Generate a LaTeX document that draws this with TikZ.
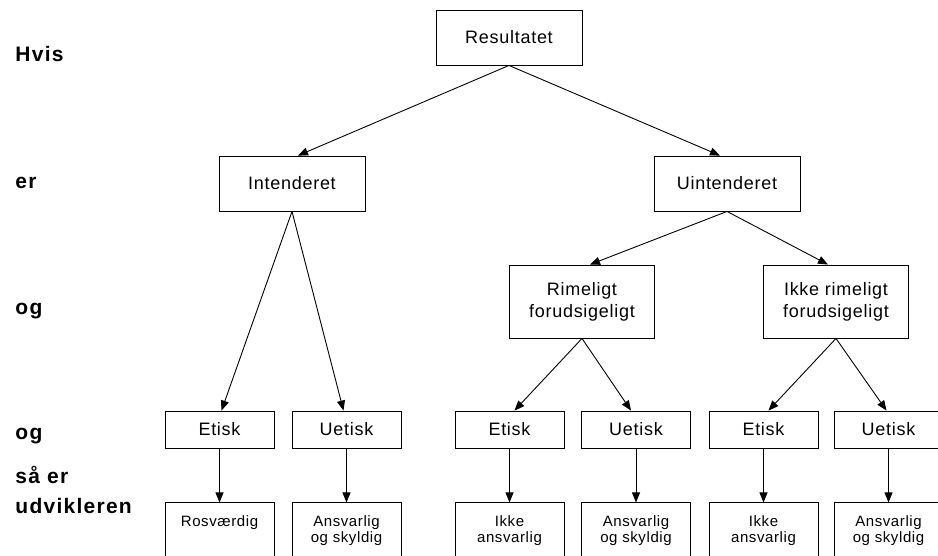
\documentclass[tikz,border=0pt]{standalone}
\usepackage{fontspec}
\setmainfont[LetterSpace=4]{Liberation Sans}
\newfontfamily\rowfont[LetterSpace=6]{Liberation Sans}
\usetikzlibrary{positioning,arrows.meta}

\begin{document}
\begin{tikzpicture}[
        x=1pt, y=-1pt,
        box/.style={
                rectangle,
                draw=black,
                fill=white,
                line width=0.9pt,
                minimum width=146pt,
                minimum height=55pt,
                align=center,
                font=\fontsize{18}{22}\selectfont
            },
        tallbox/.style={
                box,
                minimum width=145pt,
                minimum height=73pt
            },
        choice/.style={
                box,
                minimum width=109pt,
                minimum height=37pt
            },
        verdict/.style={
                rectangle,
                draw=black,
                line width=0.9pt,
                minimum width=109pt,
                align=center,
                inner ysep=4pt,
                text height=20pt,
                text depth=40pt,
                font=\fontsize{15}{16}\selectfont
            },
        twolines/.style={text height=36pt, text depth=24pt},
        rowtext/.style = {anchor=base west, align=left, inner sep=0pt,
                font=\rowfont\fontsize{21}{30}\selectfont\bfseries},
        >={Triangle[length=10pt,width=8pt]},
        line width=0.9pt
    ]
    \useasboundingbox (0,0) rectangle (938,555);

    % row captions
    \node[rowtext] (hvis) at (15,61)  {Hvis};
    \node[rowtext] (er)   at (15,188) {er};
    \node[rowtext] (og1)  at (15,314) {og};
    \node[rowtext] (og2)  at (15,439) {og};
    \node[rowtext] (saa)  at (15,513) {så er\\udvikleren};

    \node[box] (result)     at (509,37.5)  {Resultatet};
    \node[box] (intended)   at (292,183.5) {Intenderet};
    \node[box] (unintended) at (727,183.5) {Uintenderet};
    \node[tallbox] (foreseen)   at (582,301.5) {Rimeligt\\forudsigeligt};
    \node[tallbox] (unforeseen) at (836,301.5) {Ikke rimeligt\\forudsigeligt};

    \node[choice] (ethicalA)   at (219.5,429.5) {Etisk};
    \node[choice] (unethicalA) at (346.5,429.5) {Uetisk};
    \node[choice] (ethicalB)   at (509.5,429.5) {Etisk};
    \node[choice] (unethicalB) at (636,429.5)   {Uetisk};
    \node[choice] (ethicalC)   at (763.5,429.5) {Etisk};
    \node[choice] (unethicalC) at (888.5,429.5) {Uetisk};

    \node[verdict] (praise)  [below=54pt of ethicalA]             {Rosværdig};
    \node[verdict,twolines] (guiltyA) [below=54pt of unethicalA] {Ansvarlig\\og skyldig};
    \node[verdict,twolines] (freeB)   [below=54pt of ethicalB]   {Ikke\\ansvarlig};
    \node[verdict,twolines] (guiltyB) [below=54pt of unethicalB] {Ansvarlig\\og skyldig};
    \node[verdict,twolines] (freeC)   [below=54pt of ethicalC]   {Ikke\\ansvarlig};
    \node[verdict,twolines] (guiltyC) [below=54pt of unethicalC] {Ansvarlig\\og skyldig};

    \path[->] (result.south) edge ([xshift=6pt]intended.north);
    \path[->] (result.south) edge ([xshift=-7pt]unintended.north);
    \path[->] (intended.south) edge ([xshift=2pt]ethicalA.north);
    \path[->] (intended.south) edge ([xshift=-3pt]unethicalA.north);
    \path[->] (unintended.south) edge ([xshift=8pt]foreseen.north);
    \path[->] (unintended.south) edge ([xshift=-8pt]unforeseen.north);
    \path[->] (foreseen.south) edge ([xshift=5pt]ethicalB.north);
    \path[->] (foreseen.south) edge ([xshift=-5pt]unethicalB.north);
    \path[->] (unforeseen.south) edge ([xshift=5pt]ethicalC.north);
    \path[->] (unforeseen.south) edge ([xshift=-2pt]unethicalC.north);
    \path[->] (ethicalA) edge (praise);
    \path[->] (unethicalA) edge (guiltyA);
    \path[->] (ethicalB) edge (freeB);
    \path[->] (unethicalB) edge (guiltyB);
    \path[->] (ethicalC) edge (freeC);
    \path[->] (unethicalC) edge (guiltyC);
\end{tikzpicture}
\end{document}
